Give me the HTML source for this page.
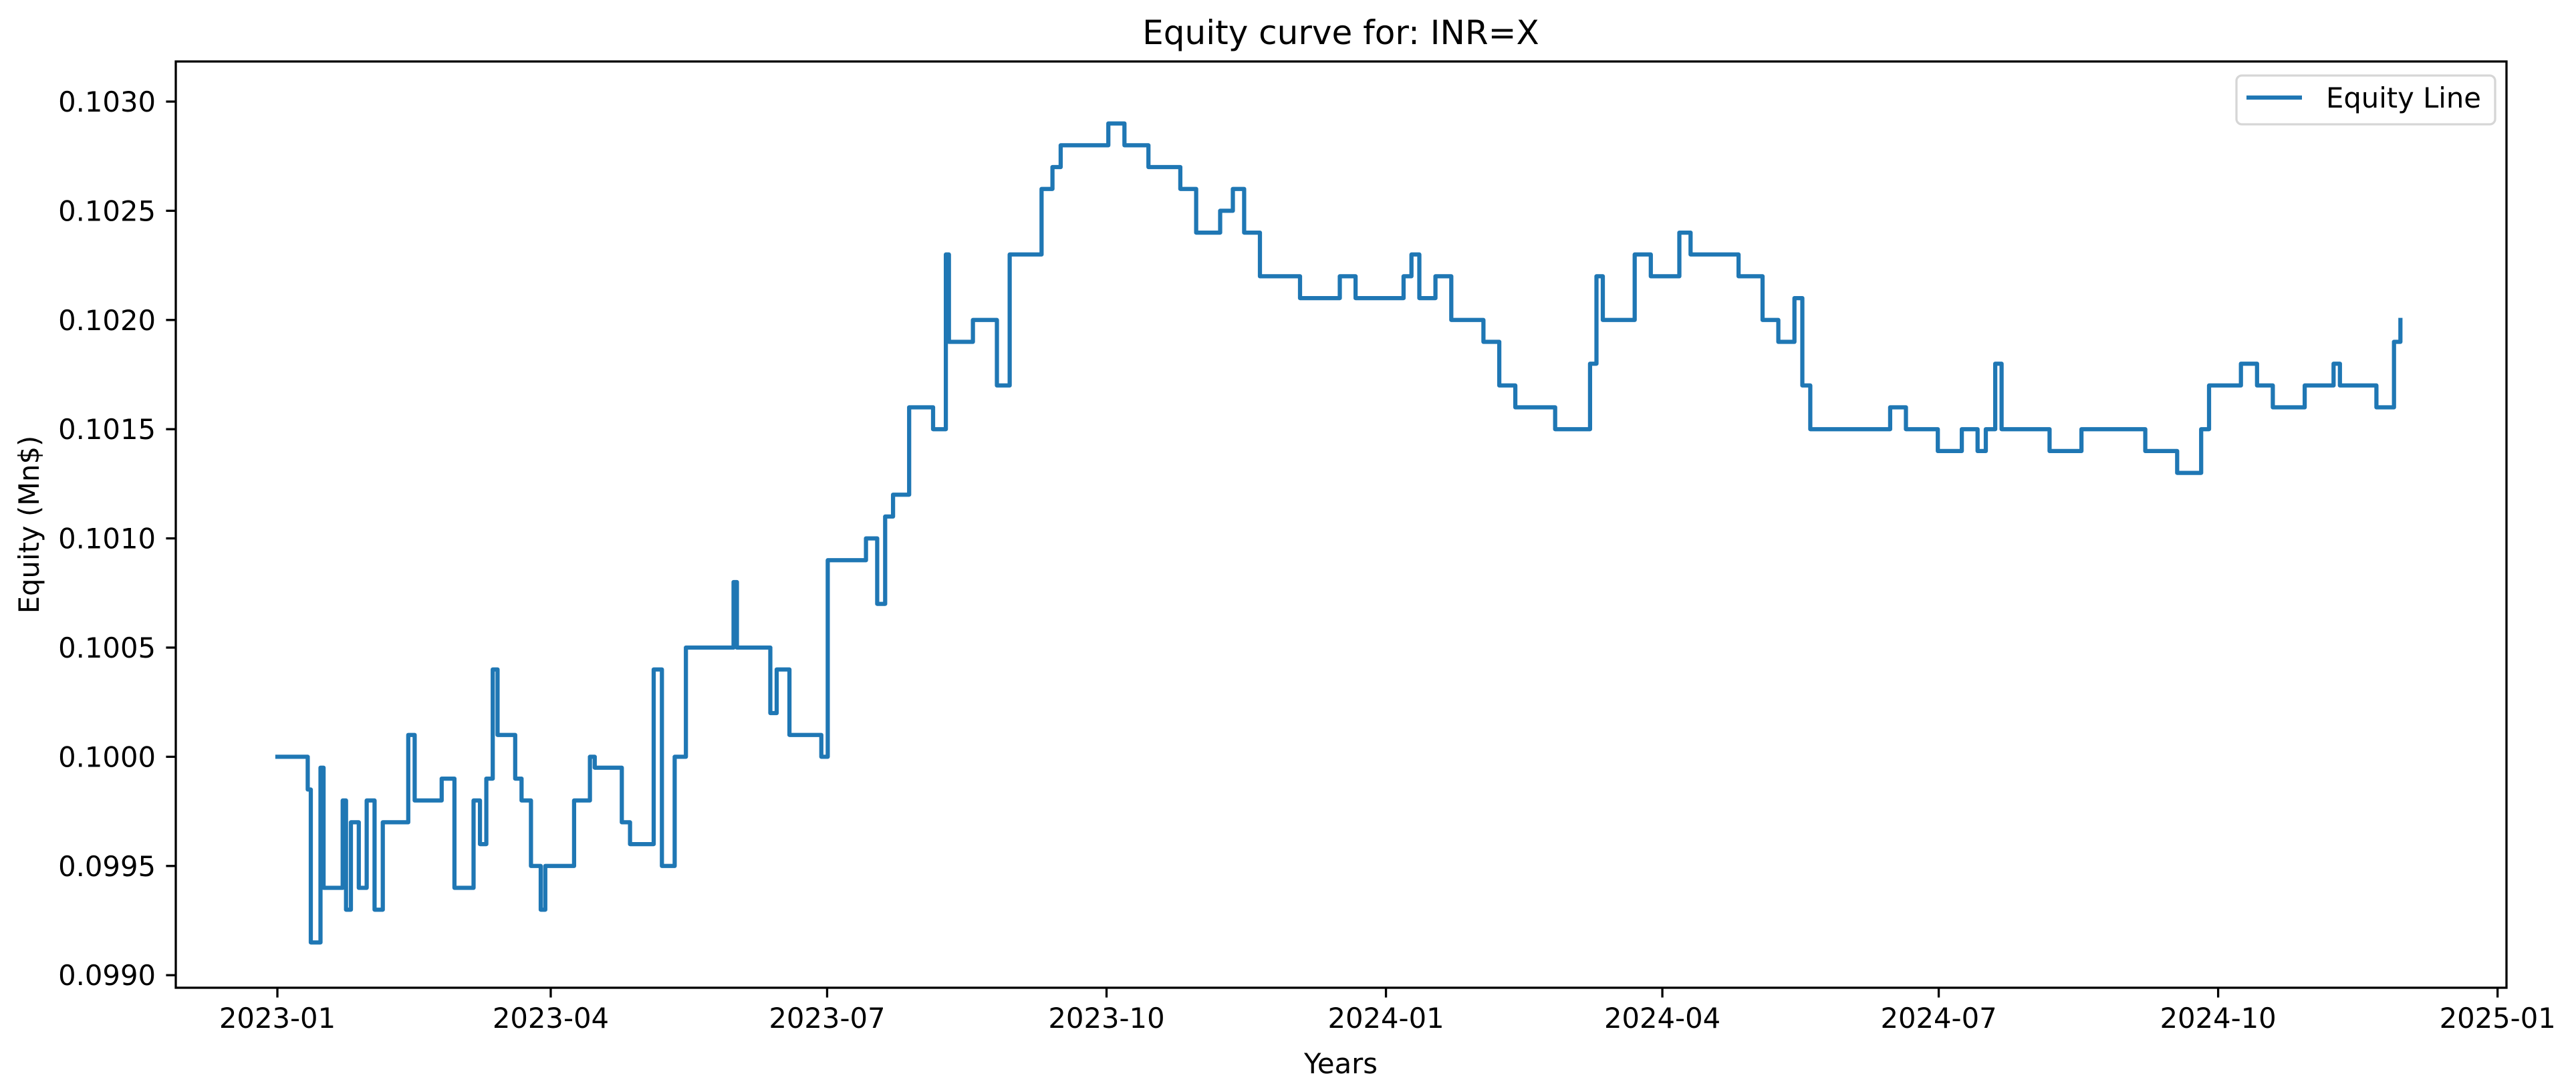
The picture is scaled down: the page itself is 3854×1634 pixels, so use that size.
<!DOCTYPE html>
<html><head><meta charset="utf-8"><style>
html,body{margin:0;padding:0;background:#fff;}
svg{display:block;font-family:"DejaVu Sans","Liberation Sans",sans-serif;}
</style></head><body>
<svg id="chart" width="3854" height="1634" viewBox="0 0 3854 1634" xmlns="http://www.w3.org/2000/svg">
<rect x="0" y="0" width="3854" height="1634" fill="#fff"/>
<text x="2006" y="66" font-size="50" text-anchor="middle">Equity curve for: INR=X</text>
<g id="xticks"></g>
<g id="yticks"></g>
<g id="series"></g>
<rect x="263" y="92" width="3487" height="1386" fill="none" stroke="#000" stroke-width="3.3"/>
<text x="2006" y="1606" font-size="41.7" text-anchor="middle">Years</text>
<text transform="translate(58,785) rotate(-90)" font-size="41.7" text-anchor="middle">Equity (Mn$)</text>
<g>
<rect x="3346" y="113" width="387" height="73" rx="8" fill="#fff" fill-opacity="0.8" stroke="#d6d6d6" stroke-width="3.3"/>
<line x1="3361" y1="146" x2="3444" y2="146" stroke="#1f77b4" stroke-width="6.25"/>
<text x="3480" y="161" font-size="41.7">Equity Line</text>
</g>
</svg>
<script>
const days = [0,9.5,10,11,12.6,14.2,15.2,20,21.5,22.6,24.2,26.8,29.4,32,34.7,41.5,43.1,45.2,53,54.1,58.3,63.5,64.6,66.7,68.8,70.9,72.5,76.7,78.3,80.4,83.5,86.7,88.2,95.1,97.7,102.9,104.5,110.8,113.4,116.1,121.3,123.9,126.6,130.8,134.5,137.1,145,150.2,151.3,160.7,162.3,164.4,168.6,171.2,178,179.1,181.2,184.3,192.2,193.8,197.5,200.1,202.7,208,210.6,214.8,215.9,220.1,221.1,226.4,229,236.9,241.1,242.1,247.4,251.6,255.2,257.9,268.4,273.6,278.9,286.8,297.3,302.5,310.4,314.6,318.3,323.5,331.4,336.7,347.2,349.8,355,368.2,370.8,373.4,376,381.3,386.5,394.4,397.1,402.3,407.6,410.2,418.1,420.7,428.6,432.2,434.3,436.4,444.3,446.9,452.2,457.5,461.6,465.3,475.8,481.1,489,494.2,499.5,502.1,504.7,515.2,525.7,531,536.2,541.5,546.7,554.6,559.8,562.5,565.6,567.7,578.3,583.5,588.8,594,609.8,615,622.9,625.5,629.7,633.4,636,643.9,646.5,651.8,657,664.9,667.5,672.8,677,679.1,688.5,691.1,693.7,696.9,699];
const equity = [0.1,0.1,0.09985,0.09915,0.09915,0.09995,0.0994,0.0994,0.0998,0.0993,0.0997,0.0994,0.0998,0.0993,0.0997,0.0997,0.1001,0.0998,0.0998,0.0999,0.0994,0.0994,0.0998,0.0996,0.0999,0.1004,0.1001,0.1001,0.0999,0.0998,0.0995,0.0993,0.0995,0.0995,0.0998,0.1,0.09995,0.09995,0.0997,0.0996,0.0996,0.1004,0.0995,0.1,0.1005,0.1005,0.1005,0.1008,0.1005,0.1005,0.1002,0.1004,0.1001,0.1001,0.1001,0.1,0.1009,0.1009,0.1009,0.101,0.1007,0.1011,0.1012,0.1016,0.1016,0.1016,0.1015,0.1023,0.1019,0.1019,0.102,0.1017,0.1023,0.1023,0.1023,0.1026,0.1027,0.1028,0.1028,0.1029,0.1028,0.1027,0.1026,0.1024,0.1025,0.1026,0.1024,0.1022,0.1022,0.1021,0.1021,0.1022,0.1021,0.1021,0.1022,0.1023,0.1021,0.1022,0.102,0.102,0.1019,0.1017,0.1016,0.1016,0.1016,0.1015,0.1015,0.1018,0.1022,0.102,0.102,0.1023,0.1022,0.1022,0.1024,0.1023,0.1023,0.1022,0.102,0.1019,0.1021,0.1017,0.1015,0.1015,0.1015,0.1016,0.1015,0.1015,0.1014,0.1015,0.1014,0.1015,0.1018,0.1015,0.1015,0.1014,0.1014,0.1015,0.1015,0.1014,0.1014,0.1013,0.1013,0.1015,0.1017,0.1017,0.1018,0.1017,0.1016,0.1016,0.1017,0.1017,0.1018,0.1017,0.1017,0.1016,0.1016,0.1019,0.102];
const xTickLabels = ["2023-01","2023-04","2023-07","2023-10","2024-01","2024-04","2024-07","2024-10","2025-01"];
const xTickDays = [0,90,181,273,365,456,547,639,731];
const yTickValues = [0.0990,0.0995,0.1000,0.1005,0.1010,0.1015,0.1020,0.1025,0.1030];

const NS = "http://www.w3.org/2000/svg";
function X(d){ return 415 + d * 4.544; }
function Y(v){ return 152 + (0.1030 - v) / 0.0005 * 163.4; }
function mk(tag, attrs, parent){
  const el = document.createElementNS(NS, tag);
  for (const k in attrs) el.setAttribute(k, attrs[k]);
  parent.appendChild(el);
  return el;
}
const xg = document.getElementById("xticks");
xTickDays.forEach((d, i) => {
  const t = mk("line", {x1: X(d), y1: 1478, x2: X(d), y2: 1492.6, stroke: "#000", "stroke-width": 3.3}, xg);
  
  
  const l = mk("text", {x: X(d), y: 1538, "font-size": 41.7, "text-anchor": "middle"}, xg);
  l.textContent = xTickLabels[i];
  
  
});
const yg = document.getElementById("yticks");
yTickValues.forEach(v => {
  const t = mk("line", {x1: 248.4, y1: Y(v), x2: 263, y2: Y(v), stroke: "#000", "stroke-width": 3.3}, yg);
  
  
  const l = mk("text", {x: 233, y: Y(v) + 15, "font-size": 41.7, "text-anchor": "end"}, yg);
  l.textContent = v.toFixed(4);
  
  
});
const sg = document.getElementById("series");
const stepPts = [];
days.forEach((d, i) => {
  if (i > 0) stepPts.push(X(d).toFixed(1) + "," + Y(equity[i - 1]).toFixed(1));
  stepPts.push(X(d).toFixed(1) + "," + Y(equity[i]).toFixed(1));
});
const line = mk("polyline", {points: stepPts.join(" "), fill: "none", stroke: "#1f77b4", "stroke-width": 6.25, "stroke-linejoin": "round", "stroke-linecap": "square"}, sg);


</script>
</body></html>
